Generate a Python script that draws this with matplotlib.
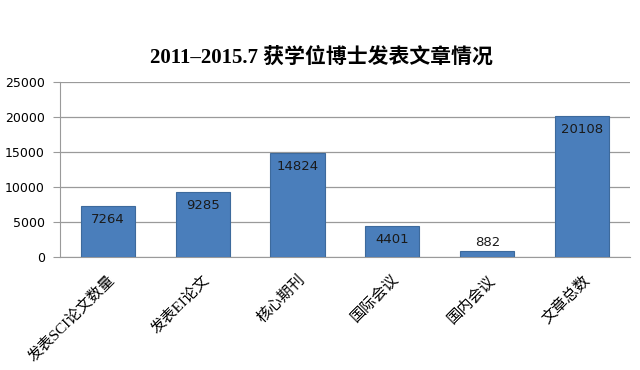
import numpy as np
import matplotlib.pyplot as plt

plt.rcParams['font.family'] = ['Noto Sans CJK SC', 'DejaVu Sans']

categories = ['发表SCI论文数量', '发表EI论文', '核心期刊', '国际会议', '国内会议', '文章总数']
values = [7264, 9285, 14824, 4401, 882, 20108]
yticks = [0, 5000, 10000, 15000, 20000, 25000]

fig = plt.figure(figsize=(6.4, 3.7), dpi=100)
ax = fig.add_axes([0.094, 0.305, 0.89, 0.473])

x = np.arange(len(categories))
bars = ax.bar(x, values, width=0.57, color='#4a7ebb', edgecolor='#3d6a9c', linewidth=0.8, zorder=3)

for i, v in enumerate(values):
    if v > 2000:
        ax.text(i, v - 1000, str(v), ha='center', va='top', fontsize=9.5, color='#1a1a1a',
                family='DejaVu Sans', zorder=4)
    else:
        ax.text(i, v + 250, str(v), ha='center', va='bottom', fontsize=9.5, color='#1a1a1a',
                family='DejaVu Sans', zorder=4)

ax.set_xlim(-0.5, len(categories) - 0.5)
ax.set_ylim(0, 25000)
ax.set_yticks(yticks)
ax.set_yticklabels([str(t) for t in yticks], fontsize=9, family='DejaVu Sans')
ax.yaxis.grid(True, color='#9a9a9a', linewidth=0.9, zorder=0)
ax.tick_params(axis='y', length=5, color='#9a9a9a', pad=6)
ax.tick_params(axis='x', length=0, pad=11)

ax.set_xticks(x)
ax.set_xticklabels(categories, rotation=45, ha='right', rotation_mode='anchor', fontsize=11,
                   family=['Liberation Serif', 'Noto Sans CJK SC'])

for s in ['top', 'right']:
    ax.spines[s].set_visible(False)
for s in ['left', 'bottom']:
    ax.spines[s].set_color('#9a9a9a')

fig.text(0.503, 0.845, '2011\u20132015.7 获学位博士发表文章情况', ha='center', va='center',
         fontsize=15, fontweight='bold', family=['Liberation Serif', 'Noto Sans CJK SC'])

fig.savefig('out.png', dpi=100)
